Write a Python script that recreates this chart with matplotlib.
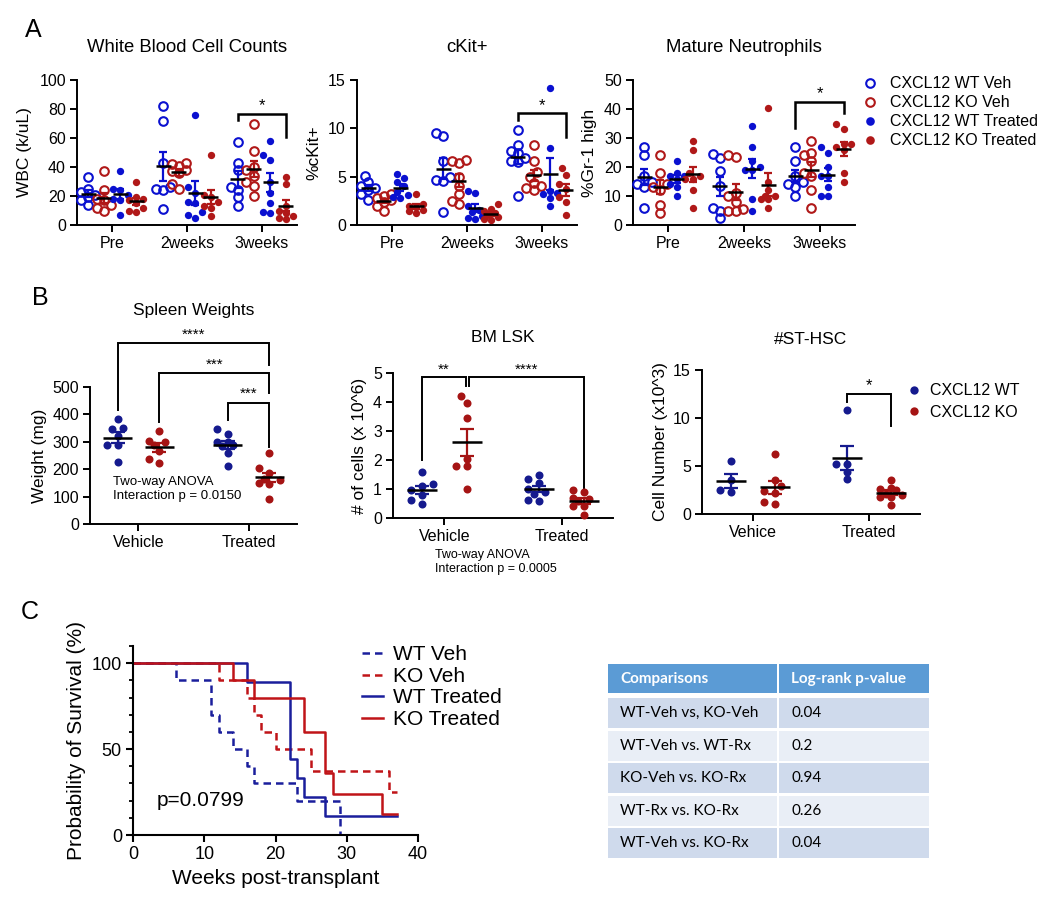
import numpy as np
import matplotlib.pyplot as plt
from matplotlib.lines import Line2D
from matplotlib.patches import Rectangle

plt.rcParams['font.family'] = ['Liberation Sans', 'DejaVu Sans']

# ---------------- data ----------------
timepoints = ['Pre', '2weeks', '3weeks']
a_labels = ['CXCL12 WT Veh', 'CXCL12 KO Veh', 'CXCL12 WT Treated', 'CXCL12 KO Treated']

# White blood cell counts (k/uL): one list per timepoint
wbc_wt_veh = [[33, 25, 23, 21, 19, 17, 14], [82, 72, 43, 26, 25, 24, 11], [57, 43, 38, 26, 24, 19, 13]]
wbc_ko_veh = [[37, 24, 18, 17, 14, 12, 10], [43, 42, 41, 38, 37, 36, 28, 25], [70, 51, 40, 38, 34, 30, 27, 20]]
wbc_wt_trt = [[37, 25, 24, 21, 18, 17, 7], [76, 26, 22, 16, 15, 9, 7, 5], [58, 48, 45, 30, 22, 15, 9, 8]]
wbc_ko_trt = [[30, 19, 18, 17, 15, 12, 10, 9], [48, 21, 19, 16, 13, 12, 6], [33, 28, 13, 10, 8, 6, 5, 4]]

# %cKit+
ckit_wt_veh = [[5.1, 4.4, 4.0, 3.8, 3.6, 3.2, 2.6], [9.5, 9.2, 6.6, 5.0, 4.7, 4.6, 1.3], [9.8, 8.3, 7.7, 7.4, 6.9, 6.6, 6.5, 3.0]]
ckit_ko_veh = [[3.2, 3.0, 2.8, 2.6, 2.4, 2.0, 1.4], [6.7, 6.6, 6.4, 5.0, 4.0, 3.2, 2.5, 2.2], [8.3, 6.6, 5.5, 5.0, 4.3, 4.0, 3.8, 3.6]]
ckit_wt_trt = [[5.3, 4.9, 4.5, 4.0, 3.4, 3.1, 2.9, 2.8], [3.5, 3.3, 2.0, 1.6, 1.3, 0.9, 0.7, 0.6], [14.2, 8.0, 3.5, 3.3, 3.2, 2.8, 2.0]]
ckit_ko_trt = [[3.2, 2.2, 2.0, 1.9, 1.6, 1.4, 1.2], [2.2, 1.7, 1.5, 1.2, 1.0, 0.8, 0.6, 0.5], [5.9, 5.2, 4.2, 3.7, 2.9, 2.4, 1.0]]

# %Gr-1 high
neut_wt_veh = [[27, 24, 17, 15, 14, 13, 6], [24.5, 23, 18.5, 13.5, 6, 5, 2.5], [27, 22, 17, 15, 14, 13, 10]]
neut_ko_veh = [[24, 18, 14, 13, 12, 7, 4], [24, 23.5, 11, 10, 8, 5.5, 5, 5], [29, 25, 24, 22, 18, 17, 12, 6]]
neut_wt_trt = [[22, 18, 17, 17, 16, 14, 13, 10], [34, 27, 22, 20, 19, 19, 9, 5], [27, 25, 20, 17, 17, 13, 10, 10]]
neut_ko_trt = [[29, 26, 18, 17, 16, 16, 12, 6], [40.5, 15, 12, 10, 10, 9, 9, 6], [35, 33, 28, 28, 27, 26, 18, 15]]

treatments = ['Vehicle', 'Treated']
hsc_treatments = ['Vehice', 'Treated']
b_labels = ['CXCL12 WT', 'CXCL12 KO']

spleen_wt = [[382, 352, 345, 322, 288, 288, 225], [345, 328, 300, 300, 290, 285, 260, 210]]
spleen_ko = [[340, 302, 298, 290, 268, 238, 222], [258, 203, 185, 165, 160, 150, 145, 92]]

lsk_wt = [[1.6, 1.18, 1.1, 0.95, 0.8, 0.62, 0.48], [1.5, 1.36, 1.2, 1.0, 0.9, 0.82, 0.62, 0.6]]
lsk_ko = [[4.22, 3.98, 3.45, 2.05, 1.8, 1.78, 1.0], [0.97, 0.88, 0.68, 0.65, 0.6, 0.42, 0.4, 0.12]]

hsc_wt = [[5.5, 3.5, 2.5, 2.3], [10.8, 5.2, 5.2, 4.4, 3.6]]
hsc_ko = [[6.2, 3.5, 2.9, 2.4, 2.2, 1.2, 1.0], [3.5, 2.7, 2.6, 2.5, 2.1, 2.0, 1.8, 1.8, 0.95]]

# Kaplan-Meier steps (weeks, % survival)
wt_veh_t = [0, 6, 11, 12, 14, 16, 17, 23, 29]
wt_veh_s = [100, 90, 70, 60, 50, 40, 30, 20, 0]
ko_veh_t = [0, 12, 16, 17, 18, 20, 25, 36, 37]
ko_veh_s = [100, 90, 80, 70, 60, 50, 37.5, 25, 25]
wt_trt_t = [0, 16, 22, 23, 24, 27, 37]
wt_trt_s = [100, 88.9, 44.4, 33.3, 22.2, 11.1, 11.1]
ko_trt_t = [0, 14, 17, 24, 27, 28, 35, 37]
ko_trt_s = [100, 90, 80, 60, 36, 24, 12, 12]

comparisons = ['WT-Veh vs, KO-Veh', 'WT-Veh vs. WT-Rx', 'KO-Veh vs. KO-Rx', 'WT-Rx vs. KO-Rx', 'WT-Veh vs. KO-Rx']
logrank_p = ['0.04', '0.2', '0.94', '0.26', '0.04']

# ---------------- styling ----------------
BLUE_A, RED_A = '#0A10D0', '#B01818'
BLUE_B, RED_B = '#151A8E', '#A51414'
BLUE_C, RED_C = '#1A1E9C', '#C01418'

W, H = 1050, 916
fig = plt.figure(figsize=(W / 100, H / 100), dpi=100)


def px_axes(l, t, r, b):
    return fig.add_axes([l / W, 1 - b / H, (r - l) / W, (b - t) / H])


def fig_text(x, y, s, **kw):
    return fig.text(x / W, 1 - y / H, s, **kw)


def style(ax, lw=1.4, size=11.5):
    for side in ['top', 'right']:
        ax.spines[side].set_visible(False)
    for side in ['left', 'bottom']:
        ax.spines[side].set_linewidth(lw)
    ax.tick_params(width=lw, length=5, labelsize=size, pad=3)


def swarm(vals, ymax, h_px, unit_px, d, step, kmax):
    # spread dots a little sideways so they do not sit exactly on top of each other
    y = np.asarray(vals, float) / ymax * h_px
    xs = np.zeros(len(y))
    placed = []
    ks = [0]
    for k in range(1, kmax + 1):
        ks += [-k, k]
    for i in np.argsort(y):
        best, best_gap = 0.0, -1.0
        for k in ks:
            xp = k * step
            gap = min([np.hypot(xp - px, y[i] - py) for px, py in placed] or [1e9])
            if gap >= d:
                best = xp
                break
            if gap > best_gap:
                best, best_gap = xp, gap
        placed.append((best, y[i]))
        xs[i] = best
    return xs / unit_px


def dot_group(ax, x, vals, color, hollow, ymax, h_px, unit_px, ms, hw, cap, step, kmax):
    d = ms * 1.39 * 0.8
    xs = x + swarm(vals, ymax, h_px, unit_px, d, step, kmax)
    if hollow:
        ax.plot(xs, vals, 'o', ms=ms, mfc='none', mec=color, mew=1.5, zorder=3, clip_on=False)
    else:
        ax.plot(xs, vals, 'o', ms=ms * 0.85, color=color, mew=0, zorder=3, clip_on=False)
    m = np.mean(vals)
    sem = np.std(vals, ddof=1) / np.sqrt(len(vals))
    ax.errorbar(x, m, yerr=sem, fmt='none', ecolor=color, elinewidth=1.6, capsize=cap, capthick=1.6, zorder=4)
    ax.hlines(m, x - hw, x + hw, color='black', lw=1.8, zorder=5)


def bracket(ax, x1, x2, top, yl, yr, text, ty, lw=1.8, size=12):
    ax.plot([x1, x1, x2, x2], [yl, top, top, yr], color='black', lw=lw, clip_on=False,
            solid_joinstyle='miter')
    ax.text((x1 + x2) / 2, ty, text, ha='center', va='center', fontsize=size, clip_on=False)


# ---------------- panel A ----------------
a_offsets = [-0.32, -0.11, 0.11, 0.32]
a_colors = [BLUE_A, RED_A, BLUE_A, RED_A]
a_hollow = [True, True, False, False]
a_panels = [
    ((77, 80, 297, 225), 'White Blood Cell Counts', 'WBC (k/uL)', 100, 20,
     [wbc_wt_veh, wbc_ko_veh, wbc_wt_trt, wbc_ko_trt], (76.3, 72.4, 61, 82)),
    ((357, 80, 577, 225), 'cKit+', '%cKit+', 15, 5,
     [ckit_wt_veh, ckit_ko_veh, ckit_wt_trt, ckit_ko_trt], (11.6, 10.9, 9.1, 12.4)),
    ((633, 80, 855, 225), 'Mature Neutrophils', '%Gr-1 high', 50, 10,
     [neut_wt_veh, neut_ko_veh, neut_wt_trt, neut_ko_trt], (42.5, 33.3, 38.7, 45.2)),
]
for rect, title, ylab, ymax, step, groups, br in a_panels:
    ax = px_axes(*rect)
    style(ax)
    h_px = rect[3] - rect[1]
    for g, data in enumerate(groups):
        for t, vals in enumerate(data):
            dot_group(ax, t + a_offsets[g], vals, a_colors[g], a_hollow[g], ymax, h_px, 75,
                      ms=6.2, hw=0.1, cap=3, step=3.6, kmax=2)
    ax.set_xlim(-0.47, 2.47)
    ax.set_ylim(0, ymax)
    ax.set_yticks(np.arange(0, ymax + 1e-9, step))
    ax.set_xticks(range(3))
    ax.set_xticklabels(timepoints)
    ax.set_ylabel(ylab, fontsize=12.5, labelpad=5)
    bracket(ax, 2 + a_offsets[0], 2 + a_offsets[3], br[0], br[1], br[2], '*', br[3])
    fig_text((rect[0] + rect[2]) / 2, 48, title, ha='center', va='center', fontsize=13.3)

a_handles = [Line2D([], [], ls='none', marker='o', ms=6.2, mfc='none' if a_hollow[i] else a_colors[i],
                    mec=a_colors[i], mew=1.5 if a_hollow[i] else 0) for i in range(4)]
fig.legend(a_handles, a_labels, loc='upper left', bbox_to_anchor=(856 / W, 1 - 70 / H), frameon=False,
           fontsize=11.5, handlelength=1.0, handletextpad=0.7, labelspacing=0.25, borderaxespad=0)

# ---------------- panel B ----------------
b_off = 0.19
b_panels = [
    ((90, 387, 297, 524), 'Spleen Weights', 'Weight (mg)', 500, 100, spleen_wt, spleen_ko, treatments, 310),
    ((393, 373, 613, 518), 'BM LSK', '# of cells (x 10^6)', 5, 1, lsk_wt, lsk_ko, treatments, 337),
    ((702, 370, 920, 514), '#ST-HSC', 'Cell Number (x10^3)', 15, 5, hsc_wt, hsc_ko, hsc_treatments, 340),
]
b_axes = []
for rect, title, ylab, ymax, step, wt, ko, xl, ty in b_panels:
    ax = px_axes(*rect)
    style(ax)
    h_px = rect[3] - rect[1]
    for t in range(2):
        dot_group(ax, t - b_off, wt[t], BLUE_B, False, ymax, h_px, 117, ms=6.8, hw=0.13, cap=5,
                  step=5.5, kmax=2)
        dot_group(ax, t + b_off, ko[t], RED_B, False, ymax, h_px, 117, ms=6.8, hw=0.13, cap=5,
                  step=5.5, kmax=2)
    ax.set_xlim(-0.44, 1.44)
    ax.set_ylim(0, ymax)
    ax.set_yticks(np.arange(0, ymax + 1e-9, step))
    ax.set_xticks([0, 1])
    ax.set_xticklabels(xl)
    ax.set_ylabel(ylab, fontsize=12.5, labelpad=4)
    fig_text((rect[0] + rect[2]) / 2, ty, title, ha='center', va='center', fontsize=12.5)
    b_axes.append(ax)

ax1, ax2, ax3 = b_axes
bracket(ax1, -b_off, 1 + b_off, 660, 416, 580, '****', 690, lw=1.4, size=11)
bracket(ax1, b_off, 1 + b_off, 551, 372, 478, '***', 580, lw=1.4, size=11)
bracket(ax1, 1 - b_off, 1 + b_off, 443, 380, 281, '***', 474, lw=1.4, size=11)
bracket(ax2, -b_off, b_off - 0.01, 4.86, 2.0, 4.54, '**', 5.12, lw=1.4, size=11)
bracket(ax2, b_off + 0.02, 1 + b_off, 4.86, 4.54, 1.03, '****', 5.12, lw=1.4, size=11)
bracket(ax3, 1 - b_off, 1 + b_off, 12.5, 11.7, 9.2, '*', 13.4, lw=1.4, size=12)

fig_text(113, 476, 'Two-way ANOVA\nInteraction p = 0.0150', ha='left', va='top', fontsize=9.5,
         linespacing=1.25)
fig_text(435, 549, 'Two-way ANOVA\nInteraction p = 0.0005', ha='left', va='top', fontsize=9,
         linespacing=1.25)

b_handles = [Line2D([], [], ls='none', marker='o', ms=6, color=c, mew=0) for c in (BLUE_B, RED_B)]
fig.legend(b_handles, b_labels, loc='upper left', bbox_to_anchor=(900 / W, 1 - 377 / H), frameon=False,
           fontsize=11.5, handlelength=1.0, handletextpad=0.5, labelspacing=0.4, borderaxespad=0)

# ---------------- panel C ----------------
axc = px_axes(133, 646, 418, 835)
style(axc, lw=1.5, size=13)
axc.plot(wt_veh_t, wt_veh_s, drawstyle='steps-post', color=BLUE_C, lw=1.8, ls=(0, (3, 2)), label='WT Veh')
axc.plot(ko_veh_t, ko_veh_s, drawstyle='steps-post', color=RED_C, lw=1.8, ls=(0, (3, 2)), label='KO Veh')
axc.plot(wt_trt_t, wt_trt_s, drawstyle='steps-post', color=BLUE_C, lw=1.8, label='WT Treated')
axc.plot(ko_trt_t, ko_trt_s, drawstyle='steps-post', color=RED_C, lw=1.8, label='KO Treated')
axc.set_xlim(0, 40)
axc.set_ylim(0, 110)
axc.set_xticks([0, 10, 20, 30, 40])
axc.set_yticks([0, 50, 100])
axc.set_yticks(np.arange(0, 111, 10), minor=True)
axc.tick_params(axis='y', which='minor', length=3, width=1.3)
axc.set_xlabel('Weeks post-transplant', fontsize=15, labelpad=4)
axc.set_ylabel('Probability of Survival (%)', fontsize=15, labelpad=4)
axc.text(3.3, 20, 'p=0.0799', fontsize=15, va='center', ha='left')
axc.legend(loc='upper left', bbox_to_anchor=(354 / W, 1 - 637 / H), bbox_transform=fig.transFigure,
           frameon=False, fontsize=15, handlelength=1.0, handletextpad=0.45, labelspacing=0.12,
           borderaxespad=0)

# table of log-rank comparisons
axt = px_axes(608, 664, 929, 858)
axt.set_xlim(608, 929)
axt.set_ylim(858, 664)
axt.axis('off')
col_x = [(608, 777), (779, 929)]
for c0, c1 in col_x:
    axt.add_patch(Rectangle((c0, 664), c1 - c0, 29, color='#5B9BD5', lw=0))
axt.text(col_x[0][0] + 12, 678.5, 'Comparisons', color='white', fontweight='bold', fontsize=11,
         va='center', family='Lato')
axt.text(col_x[1][0] + 12, 678.5, 'Log-rank p-value', color='white', fontweight='bold', fontsize=11,
         va='center', family='Lato')
row_tops = [698, 731, 763, 796, 828]
for i, (comp, p) in enumerate(zip(comparisons, logrank_p)):
    shade = '#CFDAEC' if i % 2 == 0 else '#E9EEF6'
    for c0, c1 in col_x:
        axt.add_patch(Rectangle((c0, row_tops[i]), c1 - c0, 30, color=shade, lw=0))
    axt.text(col_x[0][0] + 12, row_tops[i] + 15, comp, fontsize=11, va='center', family='Lato')
    axt.text(col_x[1][0] + 12, row_tops[i] + 15, p, fontsize=11, va='center', family='Lato')

# panel letters
fig_text(33, 30, 'A', fontsize=18, ha='center', va='center')
fig_text(40, 298, 'B', fontsize=18, ha='center', va='center')
fig_text(30, 612, 'C', fontsize=18, ha='center', va='center')

fig.savefig('out.png', dpi=100)
